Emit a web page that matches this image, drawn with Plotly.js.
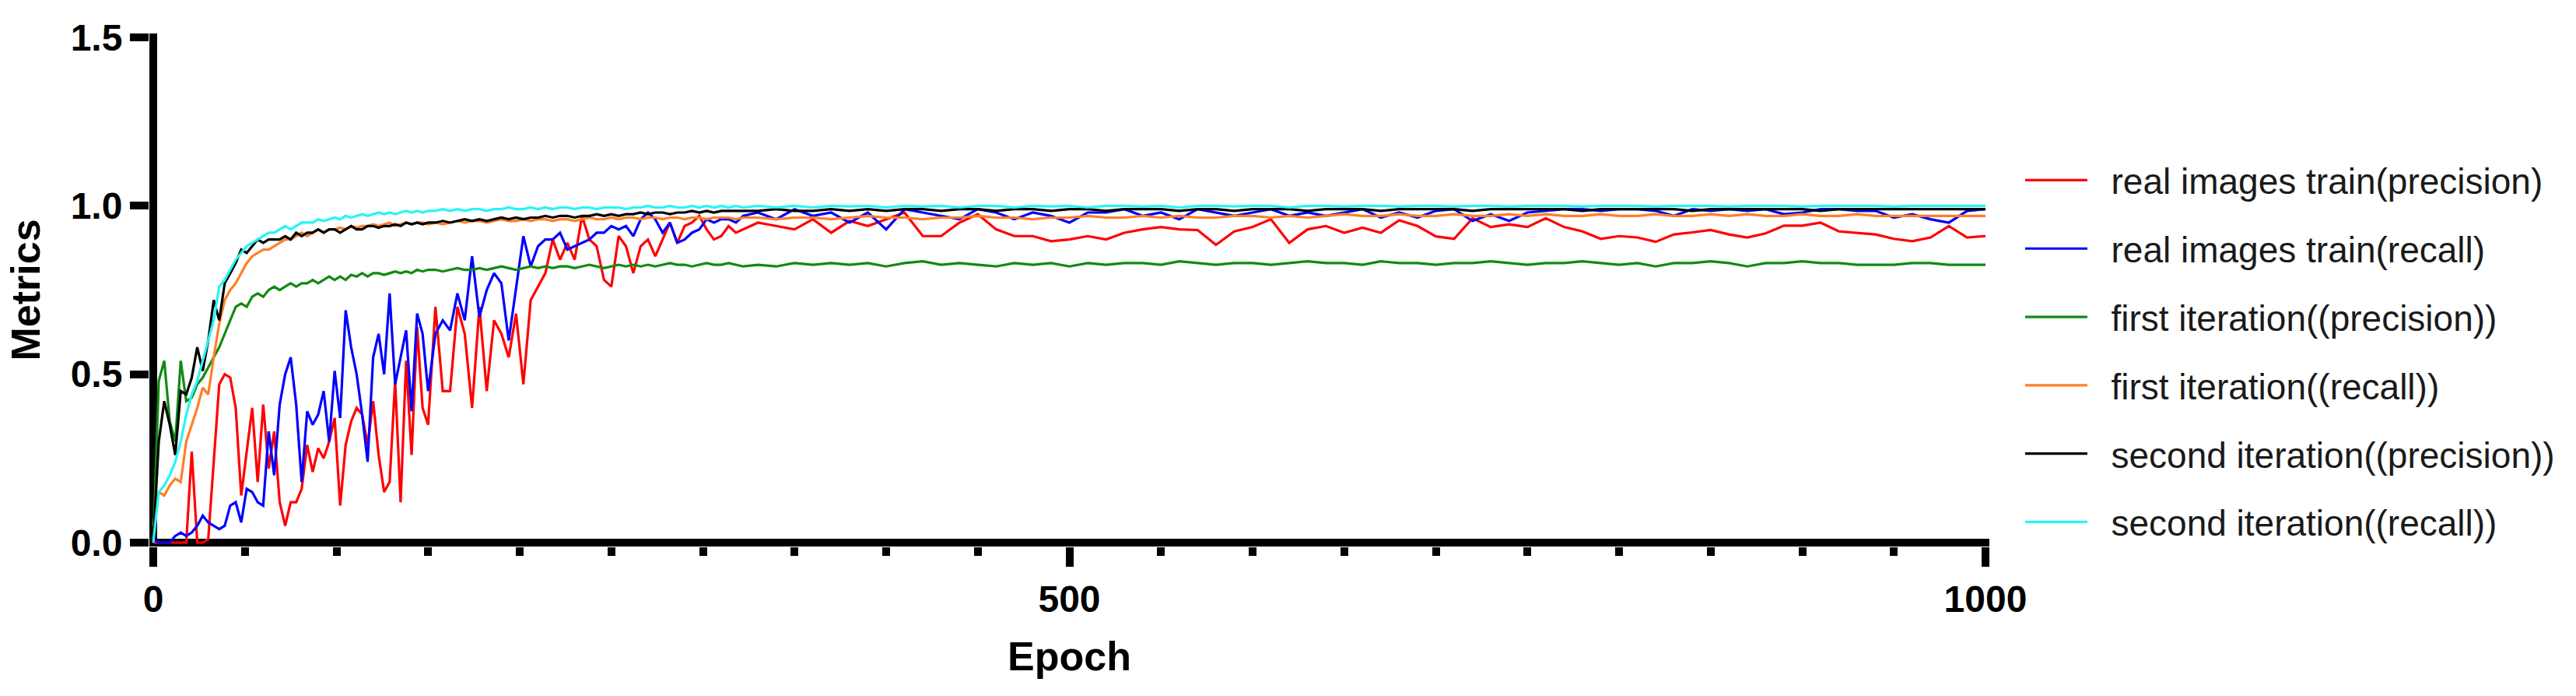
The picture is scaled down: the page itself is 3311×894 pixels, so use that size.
<!DOCTYPE html>
<html>
<head>
<meta charset="utf-8">
<script src="https://cdn.plot.ly/plotly-3.0.1.min.js"></script>
<style>
  html, body { margin: 0; padding: 0; background: #ffffff; }
  #chart { width: 3311px; height: 894px; }
</style>
</head>
<body>
<div id="chart"></div>
<script>
// ---- data ----
const epochs = [
  0,3,6,9,12,15,18,21,24,27,30,33,36,39,42,45,48,51,54,57,60,63,66,69,72,75,78,81,84,87,90,93,96,99,102,105,108,111,114,117,120,123,126,129,132,135,138,141,144,147,150,
  154,158,162,166,170,174,178,182,186,190,194,198,202,206,210,214,218,222,226,230,234,238,242,246,250,254,258,262,266,270,274,278,282,286,290,294,298,302,306,310,314,318,322,
  330,340,350,360,370,380,390,400,410,420,430,440,450,460,470,480,490,500,510,520,530,540,550,560,570,580,590,600,610,620,630,640,650,660,670,680,690,700,710,720,730,740,750,760,770,780,790,800,810,820,830,840,850,860,870,880,890,900,910,920,930,940,950,960,970,980,990,1000
];

const realPrecision = [
  0.00,0.00,0.00,0.00,0.00,0.00,0.00,0.27,0.00,0.00,0.01,0.24,0.47,0.50,0.49,0.40,0.14,0.27,0.40,0.18,0.41,0.22,0.33,0.12,0.05,0.12,0.12,0.16,0.29,0.21,0.28,0.25,0.30,0.37,0.11,0.29,0.36,0.40,0.38,0.29,0.42,0.26,0.15,0.18,0.48,0.12,0.54,0.26,0.64,0.40,0.35,
  0.70,0.45,0.45,0.70,0.62,0.40,0.70,0.45,0.66,0.62,0.55,0.68,0.47,0.72,0.76,0.80,0.90,0.84,0.89,0.84,0.97,0.90,0.88,0.78,0.76,0.91,0.88,0.80,0.88,0.90,0.85,0.90,0.95,0.89,0.94,0.95,0.97,0.93,0.90,0.91,0.94,0.92,0.93,
  0.95,0.94,0.93,0.96,0.92,0.955,0.94,0.96,0.98,0.91,0.91,0.95,0.975,0.93,0.91,0.91,0.895,0.90,0.91,0.90,0.92,0.93,0.937,0.93,0.928,0.884,0.924,0.937,0.96,0.89,0.93,0.94,0.92,0.935,0.92,0.957,0.94,0.909,0.902,0.963,0.937,0.945,0.937,0.963,0.937,0.924,0.902,0.91,0.906,0.893,0.915,0.921,0.928,0.915,0.906,0.918,0.941,0.941,0.95,0.924,0.92,0.915,0.902,0.895,0.906,0.94,0.906,0.91
];

const realRecall = [
  0.01,0.00,0.00,0.00,0.02,0.03,0.02,0.03,0.05,0.08,0.06,0.05,0.04,0.05,0.11,0.12,0.06,0.16,0.15,0.12,0.11,0.33,0.20,0.41,0.50,0.55,0.41,0.18,0.39,0.35,0.38,0.45,0.30,0.51,0.37,0.69,0.58,0.50,0.38,0.24,0.55,0.62,0.50,0.74,0.47,0.55,0.63,0.39,0.68,0.62,0.45,
  0.62,0.66,0.63,0.74,0.66,0.85,0.67,0.75,0.80,0.77,0.60,0.76,0.91,0.82,0.88,0.90,0.90,0.92,0.87,0.88,0.89,0.90,0.92,0.92,0.94,0.93,0.94,0.91,0.96,0.98,0.96,0.92,0.95,0.89,0.90,0.92,0.93,0.96,0.95,0.96,0.96,0.95,0.97,
  0.98,0.96,0.99,0.97,0.98,0.95,0.98,0.93,0.99,0.98,0.97,0.96,0.99,0.98,0.96,0.98,0.97,0.95,0.98,0.98,0.99,0.97,0.98,0.96,0.99,0.98,0.97,0.98,0.99,0.97,0.98,0.97,0.98,0.99,0.965,0.98,0.965,0.985,0.99,0.955,0.975,0.955,0.98,0.985,0.99,0.99,0.985,0.99,0.99,0.985,0.97,0.99,0.985,0.99,0.985,0.99,0.975,0.98,0.99,0.99,0.985,0.985,0.965,0.975,0.96,0.95,0.985,0.99
];

const firstPrecision = [
  0.00,0.48,0.54,0.36,0.30,0.54,0.42,0.43,0.47,0.49,0.52,0.55,0.58,0.62,0.66,0.70,0.71,0.70,0.73,0.74,0.73,0.75,0.76,0.75,0.76,0.77,0.76,0.77,0.77,0.78,0.77,0.78,0.79,0.78,0.79,0.78,0.795,0.79,0.80,0.79,0.80,0.80,0.795,0.80,0.805,0.80,0.805,0.80,0.81,0.805,0.81,
  0.81,0.805,0.81,0.815,0.81,0.81,0.815,0.81,0.815,0.82,0.815,0.81,0.815,0.82,0.815,0.82,0.815,0.82,0.82,0.815,0.82,0.825,0.82,0.815,0.82,0.825,0.82,0.825,0.82,0.825,0.82,0.825,0.83,0.825,0.825,0.82,0.825,0.83,0.825,0.825,0.83,0.825,0.82,
  0.825,0.82,0.83,0.825,0.83,0.825,0.83,0.82,0.83,0.835,0.825,0.83,0.825,0.82,0.83,0.825,0.83,0.82,0.83,0.825,0.83,0.83,0.825,0.835,0.83,0.825,0.83,0.83,0.825,0.83,0.835,0.83,0.83,0.825,0.835,0.83,0.83,0.825,0.83,0.83,0.835,0.83,0.825,0.83,0.83,0.835,0.83,0.825,0.83,0.82,0.83,0.83,0.835,0.83,0.82,0.83,0.83,0.835,0.83,0.83,0.825,0.825,0.825,0.83,0.83,0.825,0.825,0.825
];

const firstRecall = [
  0.05,0.15,0.14,0.17,0.19,0.18,0.30,0.35,0.40,0.46,0.44,0.55,0.65,0.72,0.75,0.77,0.80,0.83,0.85,0.86,0.87,0.87,0.88,0.89,0.90,0.90,0.91,0.92,0.91,0.92,0.93,0.92,0.93,0.93,0.935,0.93,0.94,0.935,0.94,0.94,0.945,0.94,0.945,0.95,0.94,0.945,0.95,0.945,0.95,0.95,0.945,
  0.95,0.945,0.95,0.955,0.95,0.955,0.955,0.95,0.955,0.96,0.955,0.955,0.96,0.955,0.96,0.96,0.955,0.96,0.96,0.955,0.96,0.965,0.96,0.96,0.965,0.96,0.965,0.965,0.96,0.965,0.965,0.96,0.965,0.965,0.96,0.965,0.965,0.96,0.965,0.965,0.965,0.96,0.965,
  0.965,0.96,0.965,0.965,0.96,0.965,0.97,0.965,0.965,0.96,0.965,0.965,0.97,0.965,0.965,0.96,0.965,0.965,0.97,0.965,0.965,0.97,0.965,0.97,0.965,0.965,0.97,0.97,0.965,0.97,0.965,0.97,0.975,0.97,0.97,0.975,0.97,0.97,0.975,0.97,0.97,0.975,0.97,0.975,0.97,0.97,0.975,0.97,0.97,0.975,0.97,0.97,0.975,0.97,0.975,0.97,0.97,0.975,0.97,0.97,0.975,0.97,0.97,0.97,0.97,0.97,0.97,0.97
];

const secondPrecision = [
  0.00,0.30,0.42,0.35,0.26,0.45,0.44,0.49,0.58,0.51,0.60,0.72,0.66,0.77,0.80,0.83,0.87,0.86,0.88,0.90,0.89,0.90,0.90,0.90,0.91,0.90,0.92,0.91,0.92,0.92,0.93,0.92,0.93,0.93,0.92,0.93,0.94,0.93,0.93,0.94,0.94,0.935,0.94,0.94,0.945,0.94,0.95,0.945,0.95,0.945,0.95,
  0.95,0.955,0.95,0.955,0.96,0.955,0.96,0.955,0.96,0.965,0.96,0.965,0.96,0.965,0.965,0.97,0.965,0.97,0.97,0.965,0.97,0.97,0.975,0.97,0.975,0.97,0.975,0.975,0.98,0.975,0.98,0.98,0.975,0.98,0.98,0.985,0.98,0.985,0.98,0.985,0.985,0.985,0.985,
  0.985,0.99,0.985,0.985,0.99,0.985,0.99,0.985,0.99,0.99,0.985,0.99,0.99,0.985,0.99,0.99,0.985,0.99,0.99,0.985,0.99,0.99,0.99,0.985,0.99,0.99,0.985,0.99,0.99,0.99,0.985,0.99,0.99,0.99,0.985,0.99,0.99,0.99,0.99,0.985,0.99,0.99,0.99,0.99,0.99,0.985,0.99,0.99,0.99,0.99,0.99,0.985,0.99,0.99,0.99,0.99,0.99,0.99,0.985,0.99,0.99,0.99,0.99,0.99,0.99,0.99,0.99,0.99
];

const secondRecall = [
  0.00,0.15,0.17,0.20,0.24,0.30,0.38,0.44,0.48,0.54,0.60,0.66,0.76,0.78,0.81,0.84,0.86,0.88,0.89,0.90,0.91,0.92,0.92,0.93,0.94,0.93,0.94,0.95,0.95,0.95,0.96,0.955,0.96,0.965,0.96,0.97,0.965,0.97,0.975,0.97,0.975,0.98,0.975,0.98,0.975,0.98,0.985,0.98,0.985,0.98,0.985,
  0.985,0.99,0.985,0.99,0.985,0.99,0.99,0.985,0.99,0.99,0.995,0.99,0.99,0.995,0.99,0.995,0.99,0.995,0.995,0.99,0.995,0.995,0.99,0.995,0.995,0.995,0.99,0.995,0.995,1.0,0.995,0.995,1.0,0.995,0.995,1.0,0.995,1.0,0.995,1.0,0.995,1.0,0.995,
  1.0,0.995,1.0,0.995,1.0,0.998,1.0,0.995,1.0,0.998,1.0,0.995,1.0,1.0,0.995,1.0,0.998,1.0,0.995,1.0,1.0,0.998,1.0,0.995,1.0,1.0,0.998,1.0,1.0,0.995,1.0,1.0,0.998,1.0,1.0,0.998,1.0,1.0,0.998,1.0,1.0,0.998,1.0,1.0,1.0,0.998,1.0,1.0,1.0,0.998,1.0,1.0,1.0,0.998,1.0,1.0,1.0,0.998,1.0,1.0,1.0,1.0,0.998,1.0,1.0,1.0,1.0,1.0
];

const seriesNames = [
  'real images train(precision)',
  'real images train(recall)',
  'first iteration((precision))',
  'first iteration((recall))',
  'second iteration((precision))',
  'second iteration((recall))'
];
const seriesValues = [realPrecision, realRecall, firstPrecision, firstRecall, secondPrecision, secondRecall];
const seriesColors = ['#ff0000', '#0000ff', '#118a11', '#ff7f27', '#000000', '#29f4f4'];

const yTickVals = [0, 0.5, 1.0, 1.5];
const yTickText = ['0.0', '0.5', '1.0', '1.5'];
const xTickVals = [0, 500, 1000];
const xTickText = ['0', '500', '1000'];

// ---- chart ----
const FONT = 'Liberation Sans, Arial, Helvetica, sans-serif';
const NB = '\u00a0\u00a0';   // small gap between legend line sample and its text

const traces = seriesNames.map((name, i) => ({
  type: 'scatter',
  mode: 'lines',
  name: NB + name,
  legendgroup: 'g' + i,
  x: epochs,
  y: seriesValues[i],
  line: { color: seriesColors[i], width: 3.2 },
  hoverinfo: 'skip'
}));

const layout = {
  width: 3311,
  height: 894,
  margin: { l: 192, r: 754, t: 43, b: 192, pad: 0 },
  paper_bgcolor: '#ffffff',
  plot_bgcolor: '#ffffff',
  font: { family: FONT, color: '#000000' },
  showlegend: true,
  legend: {
    xref: 'paper', yref: 'paper',
    x: 1.0173, y: 0.7693,
    xanchor: 'left', yanchor: 'top',
    font: { family: FONT, size: 46, color: '#1a1a1a' },
    tracegroupgap: 25,
    itemwidth: 80,
    bgcolor: 'rgba(0,0,0,0)',
    borderwidth: 0
  },
  xaxis: {
    range: [-2.123, 1002.123],
    showgrid: false,
    showline: false,
    zeroline: true,
    zerolinecolor: '#000000',
    zerolinewidth: 10,
    tickmode: 'array',
    tickvals: xTickVals,
    ticktext: xTickText,
    ticks: 'outside',
    ticklen: 25,
    tickwidth: 10,
    tickcolor: '#000000',
    tickfont: { family: FONT, size: 48, weight: 'bold', color: '#000000' },
    minor: { dtick: 50, tick0: 0, ticks: 'outside', ticklen: 11, tickwidth: 10, tickcolor: '#000000', showgrid: false },
    title: { text: 'Epoch', font: { family: FONT, size: 52, weight: 'bold', color: '#000000' }, standoff: 30 },
    automargin: true,
    fixedrange: true
  },
  yaxis: {
    range: [-0.01156, 1.51156],
    showgrid: false,
    showline: false,
    zeroline: true,
    zerolinecolor: '#000000',
    zerolinewidth: 10,
    tickmode: 'array',
    tickvals: yTickVals,
    ticktext: yTickText,
    ticks: 'outside',
    ticklen: 24,
    tickwidth: 10,
    tickcolor: '#000000',
    tickfont: { family: FONT, size: 48, weight: 'bold', color: '#000000' },
    title: { text: 'Metrics', font: { family: FONT, size: 52, weight: 'bold', color: '#000000' }, standoff: 22 },
    automargin: true,
    fixedrange: true
  }
};

Plotly.newPlot('chart', traces, layout, { displayModeBar: false, staticPlot: true });
</script>
</body>
</html>
